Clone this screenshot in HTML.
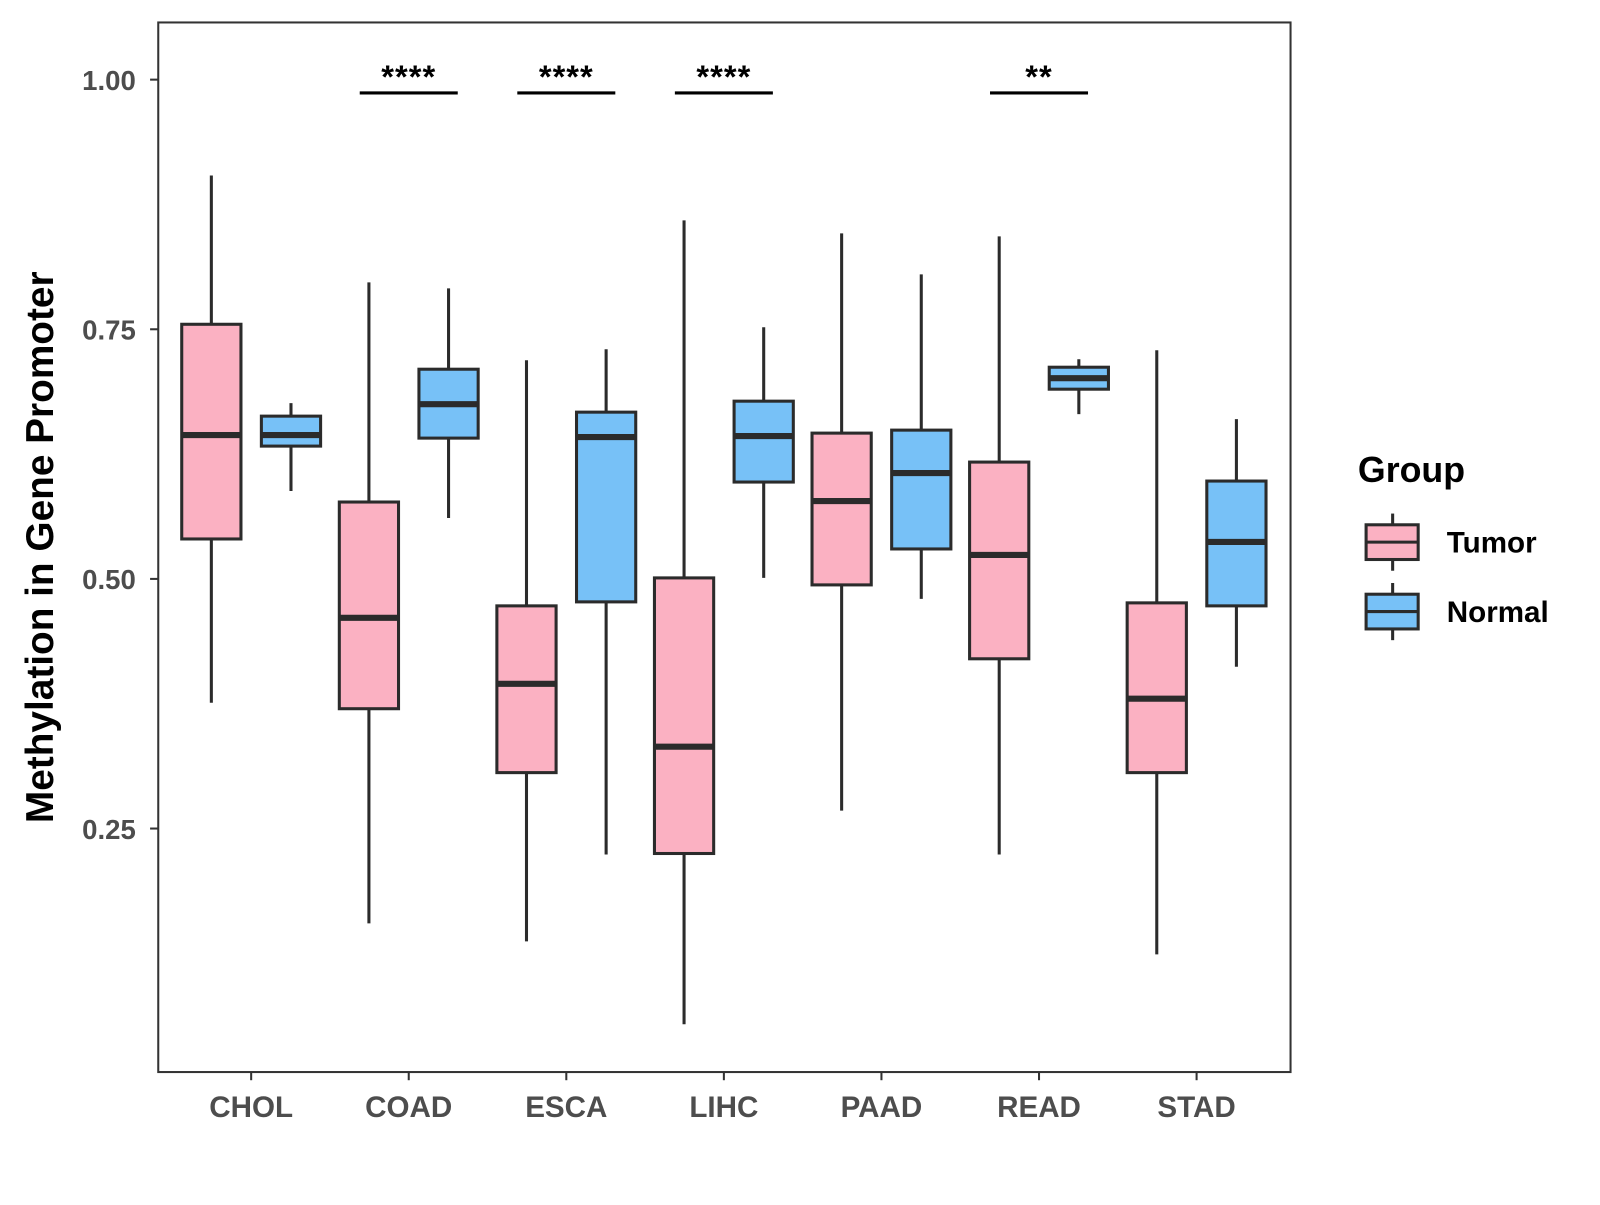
<!DOCTYPE html>
<html><head><meta charset="utf-8"><style>
body{margin:0;background:#fff;}
svg text{font-family:"Liberation Sans",Arial,sans-serif;font-weight:bold;}
</style></head><body>
<svg id="chart" width="1600" height="1200" xmlns="http://www.w3.org/2000/svg">
<rect x="0" y="0" width="1600" height="1200" fill="#fff"/>
<g id="plot" transform="scale(1.021)"></g>
</svg>
<script>
const categories=["CHOL","COAD","ESCA","LIHC","PAAD","READ","STAD"];
// [lower whisker, q1, median, q3, upper whisker]
const tumorStats=[[0.376,0.540,0.644,0.755,0.904],[0.155,0.370,0.461,0.577,0.797],[0.137,0.306,0.395,0.473,0.719],[0.054,0.225,0.332,0.501,0.859],[0.268,0.494,0.578,0.646,0.846],[0.224,0.420,0.524,0.617,0.843],[0.124,0.306,0.380,0.476,0.729]];
const normalStats=[[0.588,0.633,0.644,0.663,0.676],[0.561,0.641,0.675,0.710,0.791],[0.224,0.477,0.642,0.667,0.730],[0.501,0.597,0.643,0.678,0.752],[0.480,0.530,0.606,0.649,0.805],[0.665,0.690,0.701,0.712,0.720],[0.412,0.473,0.537,0.598,0.660]];
const sigLabels=["","****","****","****","","**",""];
const yTicks=[0.25,0.50,0.75,1.00];
const yTickLabels=["0.25","0.50","0.75","1.00"];
const groups=["Tumor","Normal"];
const colors=["#FBB1C2","#77C1F7"];

const NS="http://www.w3.org/2000/svg";
const g=document.getElementById('plot');
const P={l:155,r:1264,t:22,b:1050};
const y=v=>78+(1-v)*978;
const x=i=>246+i*154.33;
function el(t,a,p){const e=document.createElementNS(NS,t);for(const k in a)e.setAttribute(k,a[k]);(p||g).appendChild(e);return e;}

const frame=el('rect',{x:P.l,y:P.t,width:P.r-P.l,height:P.b-P.t,fill:'none',stroke:'#333','stroke-width':2});



yTicks.forEach((v,i)=>{
  const t=el('line',{x1:P.l-8,x2:P.l,y1:y(v),y2:y(v),stroke:'#333','stroke-width':2});
  
  
  const tx=el('text',{x:133,y:y(v)+10,'text-anchor':'end','font-size':27,fill:'#4d4d4d'});
  tx.textContent=yTickLabels[i];
  
  
});
categories.forEach((c,i)=>{
  const t=el('line',{x1:x(i),x2:x(i),y1:P.b,y2:P.b+8,stroke:'#333','stroke-width':2});
  
  
  const tx=el('text',{x:x(i),y:1094,'text-anchor':'middle','font-size':29,fill:'#4d4d4d'});
  tx.textContent=c;
  
  
});
function box(cx,s,fill,name){
  const w=58;
  const wl=el('line',{x1:cx,x2:cx,y1:y(s[4]),y2:y(s[0]),stroke:'#2b2b2b','stroke-width':3});
  
  
  const r=el('rect',{x:cx-w/2,y:y(s[3]),width:w,height:y(s[1])-y(s[3]),fill:fill,stroke:'#2b2b2b','stroke-width':3});
  
  
  const m=el('line',{x1:cx-w/2,x2:cx+w/2,y1:y(s[2]),y2:y(s[2]),stroke:'#2b2b2b','stroke-width':6});
  
  
}
categories.forEach((c,i)=>{
  box(x(i)-39,tumorStats[i],colors[0],c.toLowerCase()+'-tumor');
  box(x(i)+39,normalStats[i],colors[1],c.toLowerCase()+'-normal');
  if(sigLabels[i]){
    const l=el('line',{x1:x(i)-48,x2:x(i)+48,y1:91,y2:91,stroke:'#000','stroke-width':3});
    
    
    const t=el('text',{x:x(i),y:86,'text-anchor':'middle','font-size':32,'letter-spacing':1,fill:'#000'});
    t.textContent=sigLabels[i];
    
    
  }
});
const yt=el('text',{x:0,y:0,transform:'translate(52,536) rotate(-90)','text-anchor':'middle','font-size':38,fill:'#000'});
yt.textContent='Methylation in Gene Promoter';



const lt=el('text',{x:1330,y:472,'font-size':35,fill:'#000'});
lt.textContent='Group';


groups.forEach((gn,i)=>{
  const cy=531+i*68;
  const lg=el('g',{});
  
  
  el('line',{x1:1364,x2:1364,y1:cy-28,y2:cy+28,stroke:'#2b2b2b','stroke-width':3},lg);
  el('rect',{x:1338,y:cy-17,width:51,height:34,fill:colors[i],stroke:'#2b2b2b','stroke-width':3},lg);
  el('line',{x1:1338,x2:1389,y1:cy,y2:cy,stroke:'#2b2b2b','stroke-width':3},lg);
  const t=el('text',{x:1417,y:cy+10,'font-size':29,fill:'#000'},lg);
  t.textContent=gn;
});
</script>
</body></html>
